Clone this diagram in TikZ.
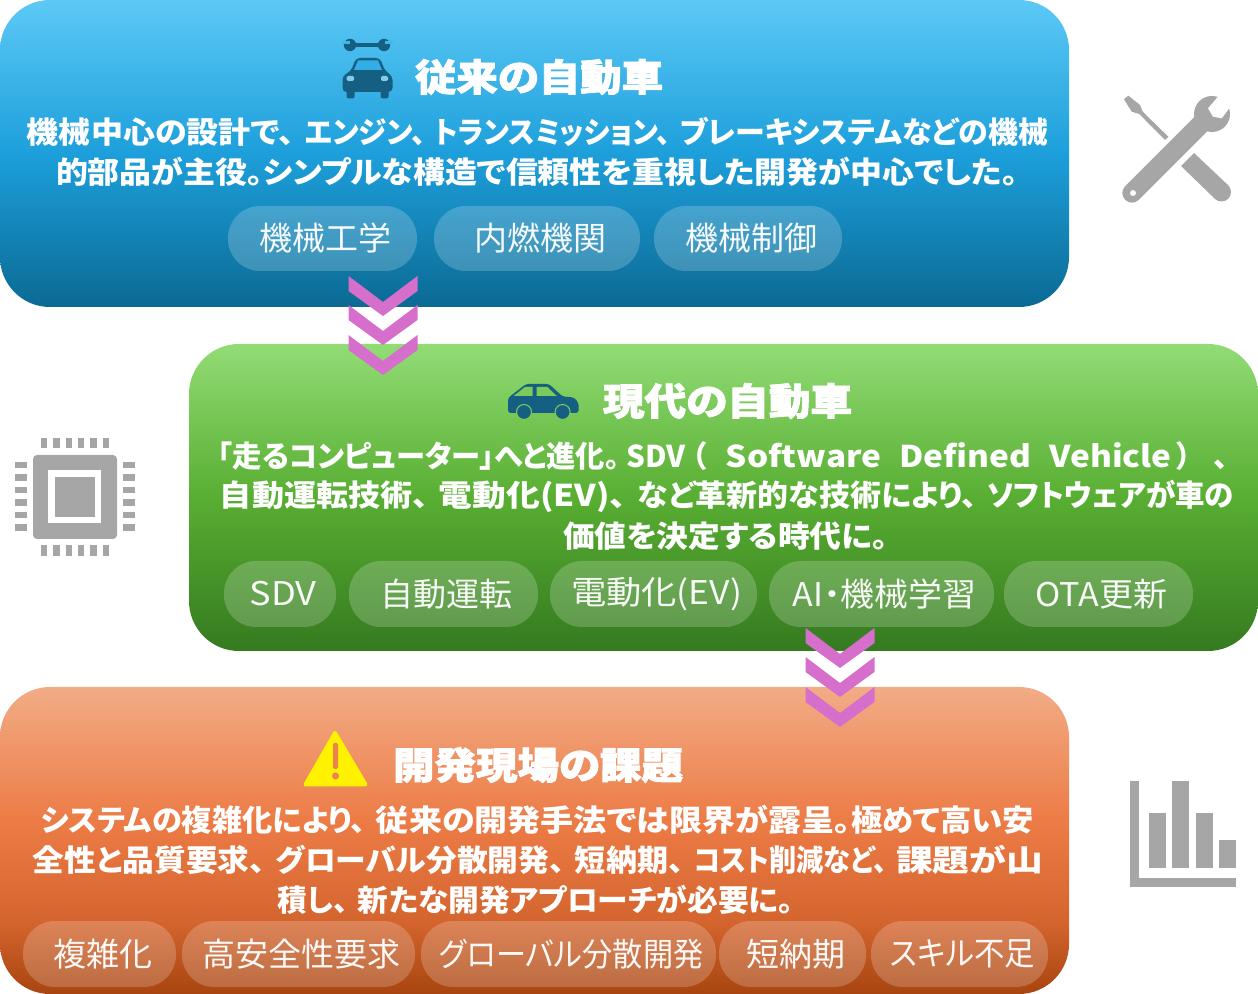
\documentclass[tikz,border=0pt]{standalone}
\usepackage{fontspec}
\newfontfamily\jpf[RawFeature=+palt]{Noto Sans CJK JP}
\newfontfamily\jph[RawFeature=+palt,BoldFeatures={FakeBold=2.2}]{Noto Sans CJK JP}
\newlength{\pxu}\setlength{\pxu}{0.75pt}
\newcommand{\fitt}[2]{\resizebox{#1\pxu}{\height}{#2}}
\newcommand{\ptx}[2]{\hspace*{6\pxu}\raisebox{-1.5\pxu}{\fitt{#1}{#2}}}
\newcommand{\tn}{、\hspace{.33em}}
\definecolor{bt}{HTML}{5CC9F5}\definecolor{bm}{HTML}{1D9FDB}\definecolor{bb}{HTML}{0B6A94}
\definecolor{gt}{HTML}{92DC75}\definecolor{gm}{HTML}{58AE32}\definecolor{gb}{HTML}{357A20}
\definecolor{ot}{HTML}{F2AC86}\definecolor{om}{HTML}{EC7B45}\definecolor{ol}{HTML}{D5652E}\definecolor{ob}{HTML}{A84510}
\definecolor{chev}{HTML}{D56FCB}
\definecolor{icong}{HTML}{A6A6A6}
\definecolor{cardark}{HTML}{156082}
\pgfdeclareverticalshading{blueg}{100bp}{color(0bp)=(bb);color(25bp)=(bb);color(50bp)=(bm);color(75bp)=(bt);color(100bp)=(bt)}
\pgfdeclareverticalshading{greeng}{100bp}{color(0bp)=(gb);color(25bp)=(gb);color(50bp)=(gm);color(75bp)=(gt);color(100bp)=(gt)}
\pgfdeclareverticalshading{orangeg}{100bp}{color(0bp)=(ob);color(25bp)=(ob);color(37bp)=(ol);color(53bp)=(om);color(75bp)=(ot);color(100bp)=(ot)}
\tikzset{
  panel/.style={rounded corners=37.5pt,shading angle=0},
  pillbox/.style={fill=white,fill opacity=.2,text opacity=.95,text=white,rounded corners=24pt,inner sep=0pt,font=\jpf\fontsize{24.5pt}{24.5pt}\selectfont},
  bodyline/.style={text=white,inner sep=0pt,font=\jpf\bfseries\fontsize{22.5pt}{24pt}\selectfont},
  headline/.style={text=white,inner sep=0pt,font=\jph\bfseries\fontsize{28pt}{30pt}\selectfont},
  chevshape/.style={fill=chev},
  icon/.style={fill=icong}
}
\newcommand{\chevronmark}[2]{\fill[chevshape] (#1-34.5,#2) -- (#1,#2+26) -- (#1+34.5,#2) -- (#1+34.5,#2+15) -- (#1,#2+40) -- (#1-34.5,#2+15) -- cycle;}
\begin{document}
\begin{tikzpicture}[x=0.75pt,y=-0.75pt]
\useasboundingbox (0,0) rectangle (1258,994);
% panels
\shade[panel,shading=blueg] (0,0) rectangle (1069,307);
\shade[panel,shading=greeng] (189,344) rectangle (1258,651);
\shade[panel,shading=orangeg] (0,687) rectangle (1069,994);
% chevrons
\chevronmark{383}{276}\chevronmark{383}{305}\chevronmark{383}{335}
\chevronmark{840}{628}\chevronmark{840}{657}\chevronmark{840}{687}
% top car icon
\begin{scope}[cardark]
\fill (352,43) rectangle (383,47);
\fill (350,45) circle (6.2);
\fill (384,45) circle (6.2);
\fill[bt!55!bm] (342,41.5) rectangle (350,44.5);
\fill[bt!55!bm] (385,41.5) rectangle (393,44.5);
\fill[rounded corners=3pt] (342.5,92) -- (342.5,76) -- (351,71) -- (356,58) -- (380,58) -- (385,71) -- (392.5,76) -- (392.5,92) -- cycle;
\fill[rounded corners=1.5pt] (346.5,90) rectangle (354.5,98.5);
\fill[rounded corners=1.5pt] (380.5,90) rectangle (388.5,98.5);
\fill[bm!65!bt] (354,70) -- (358,60.5) -- (378,60.5) -- (382,70) -- cycle;
\fill[rounded corners=1pt,bm!55!white] (346.7,76) rectangle (354,81);
\fill[rounded corners=1pt,bm!55!white] (381,76) rectangle (388,81);
\end{scope}
% side car icon
\fill[cardark,rounded corners=2pt] (508,413) -- (508,398) -- (526,384) -- (549,384) -- (562.6,396.5) -- (574,397.5) -- (578.6,403) -- (578.6,413) -- cycle;
\fill[gt!60!gm] (513.6,396) -- (532.7,396) -- (532.7,387) -- (525,387) -- cycle;
\fill[gt!60!gm] (536.5,396) -- (556.8,396) -- (547.3,387) -- (536.5,387) -- cycle;
\fill[cardark,draw=gt!60!gm,line width=.8pt] (524,412) circle (7.5);
\fill[cardark,draw=gt!60!gm,line width=.8pt] (562.6,412) circle (7.5);
% warning icon
\fill[yellow,draw=yellow,line width=3pt,line join=round] (335,733) -- (305.5,784.5) -- (365.5,784.5) -- cycle;
\fill[om!85!ot,rounded corners=1pt] (333,743) rectangle (338,769);
\fill[om!85!ot] (335.5,776) circle (3.5);
% tools icon
\fill[icon] (1124,99.3) -- (1128.3,95.7) -- (1140,105) -- (1142.7,111.7) -- (1168.3,136.7) -- (1165,140) -- (1139.3,114) -- (1131.7,111.7) -- cycle;
\fill[icon] (1181,166) -- (1194,153) -- (1228.2,185.3) -- (1214.8,198.7) -- cycle;
\fill[icon] (1221.5,192) circle (9.5);
\draw[icong,line width=14.5pt,line cap=round] (1132,193) -- (1205,120);
\fill[icon] (1212,114) circle (18);
\fill[white] (1218,96.7) -- (1208,108.3) -- (1213,116.7) -- (1221.7,118.3) -- (1230,107.3) -- (1240,92) -- (1222,88) -- cycle;
\fill[white] (1133,193) circle (3);
% chip icon
\fill[icon,rounded corners=3pt] (33,455) rectangle (117,539);
\fill[white] (48,470) rectangle (101,523);
\fill[icon] (55,477) rectangle (95,517);
\foreach \i in {0,...,5}{
  \fill[icon] ({40.6+12.45*\i},438) rectangle ({47.1+12.45*\i},448);
  \fill[icon] ({40.6+12.45*\i},545) rectangle ({47.1+12.45*\i},556);
  \fill[icon] (15,{462+12.5*\i}) rectangle (27,{468.5+12.5*\i});
  \fill[icon] (123,{462+12.5*\i}) rectangle (135,{468.5+12.5*\i});
}
% bar chart icon
\fill[icon] (1130,780.7) rectangle (1139.3,887);
\fill[icon] (1130,877.7) rectangle (1236,887);
\fill[icon] (1148.7,813) rectangle (1165.7,868);
\fill[icon] (1172.3,780.7) rectangle (1189.3,868);
\fill[icon] (1195.7,813) rectangle (1212.7,868);
\fill[icon] (1219,840) rectangle (1236,868);
% blue panel texts
\node[headline] (h1) at (539,77) {\fitt{248}{従来の自動車}};
\node[bodyline] (b1a) at (537.5,132) {\fitt{1021}{\fitt{278}{機械中心の設計で\tn}\fitt{130}{エンジン\tn}\fitt{245}{トランスミッション\tn}\fitt{368}{ブレーキシステムなどの機械}}};
\node[bodyline] (b1b) at (537,172) {\fitt{962}{的部品が主役。シンプルな構造で信頼性を重視した開発が中心でした。}};
\node[pillbox,minimum width=189\pxu,minimum height=65\pxu] (p11) at (322.5,238.5) {\ptx{132}{機械工学}};
\node[pillbox,minimum width=206\pxu,minimum height=65\pxu] (p12) at (537,238.5) {\ptx{132}{内燃機関}};
\node[pillbox,minimum width=188\pxu,minimum height=65\pxu] (p13) at (748,238.5) {\ptx{132}{機械制御}};
% green panel texts
\node[headline] (h2) at (727.5,401) {\fitt{249}{現代の自動車}};
\node[bodyline] (b2a) at (723,456) {\fitt{1010}{\fitt{407}{「走るコンピューター」へと進化。}\hspace{7\pxu}\fitt{60}{SDV}\hspace{7\pxu}（\hspace{19\pxu}\fitt{452}{Software\hspace{.55em}Defined\hspace{.55em}Vehicle}\hspace{5\pxu}）\hspace{22\pxu}、}};
\node[bodyline] (b2b) at (727,496) {\fitt{1014}{\fitt{219}{自動運転技術\tn}\fitt{199}{電動化(EV)\tn}\fitt{349}{など革新的な技術により\tn}\fitt{247}{ソフトウェアが車の}}};
\node[bodyline] (b2c) at (725.5,536) {\fitt{325}{価値を決定する時代に。}};
\node[pillbox,minimum width=112\pxu,minimum height=66\pxu] (p21) at (280,594) {\ptx{67}{SDV}};
\node[pillbox,minimum width=189\pxu,minimum height=66\pxu] (p22) at (443.5,594) {\ptx{132}{自動運転}};
\node[pillbox,minimum width=207\pxu,minimum height=66\pxu] (p23) at (653.5,594) {\raisebox{-2.5\pxu}{\ptx{171}{電動化(EV)}}};
\node[pillbox,minimum width=225\pxu,minimum height=66\pxu] (p24) at (881.5,594) {\ptx{183}{AI・機械学習}};
\node[pillbox,minimum width=189\pxu,minimum height=66\pxu] (p25) at (1098.5,594) {\ptx{132}{OTA更新}};
% orange panel texts
\node[headline] (h3) at (538,765) {\fitt{290}{開発現場の課題}};
\node[bodyline] (b3a) at (537.5,820) {\fitt{993}{\fitt{335}{システムの複雑化により\tn}\fitt{475}{従来の開発手法では限界が露呈。}\fitt{183}{極めて高い安}}};
\node[bodyline] (b3b) at (538,860) {\fitt{1010}{\fitt{243}{全性と品質要求\tn}\fitt{299}{グローバル分散開発\tn}\fitt{119}{短納期\tn}\fitt{202}{コスト削減など\tn}\fitt{147}{課題が山}}};
\node[bodyline] (b3c) at (536,900) {\fitt{516}{\fitt{80}{積し\tn}\fitt{436}{新たな開発アプローチが必要に。}}};
\node[pillbox,minimum width=153\pxu,minimum height=66\pxu] (p31) at (99.5,954) {\ptx{99}{複雑化}};
\node[pillbox,minimum width=233\pxu,minimum height=66\pxu] (p32) at (298.5,954) {\ptx{198}{高安全性要求}};
\node[pillbox,minimum width=295\pxu,minimum height=66\pxu] (p33) at (568.5,954) {\ptx{264}{グローバル分散開発}};
\node[pillbox,minimum width=147\pxu,minimum height=66\pxu] (p34) at (792.5,954) {\ptx{99}{短納期}};
\node[pillbox,minimum width=177\pxu,minimum height=66\pxu] (p35) at (959.5,954) {\ptx{145}{スキル不足}};
\end{tikzpicture}
\end{document}
